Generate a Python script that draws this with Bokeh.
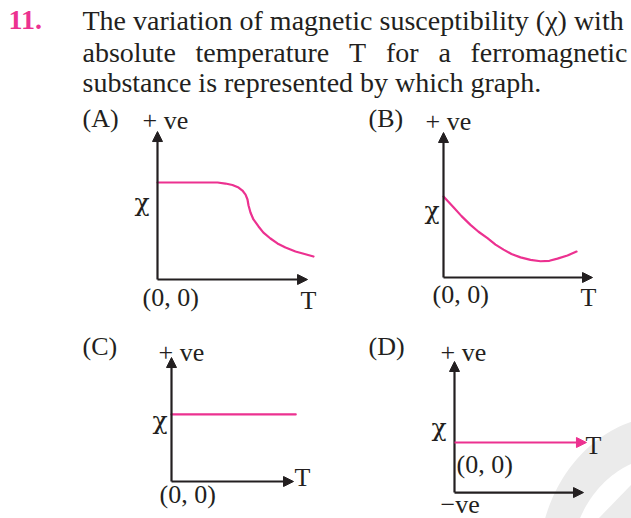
import numpy as np
from bokeh.plotting import figure
from bokeh.models import Range1d, Arrow, NormalHead
from bokeh.core.properties import value
from bokeh.embed import file_html
from bokeh.resources import INLINE

# ---------------------------------------------------------------------------
# Curves: magnetic susceptibility chi against absolute temperature T,
# in axis units (each axis is roughly 10 units long).
# ---------------------------------------------------------------------------
a_T = [0, 4.03, 4.56, 5.03, 5.44, 5.70, 5.91, 6.04, 6.11, 6.24, 6.44, 6.78,
       7.11, 7.58, 8.05, 8.59, 9.26, 9.87, 10.47]
a_chi = [6.51, 6.51, 6.44, 6.34, 6.17, 5.97, 5.70, 5.37, 4.97, 4.50, 4.03,
         3.56, 3.15, 2.75, 2.42, 2.15, 1.88, 1.71, 1.54]

b_T = [0, 0.67, 1.21, 1.81, 2.35, 2.95, 3.49, 4.03, 4.56, 5.17, 5.84, 6.51,
       7.11, 7.65, 8.32, 8.93]
b_chi = [5.44, 4.72, 4.12, 3.53, 3.07, 2.64, 2.21, 1.87, 1.58, 1.35, 1.18,
         1.09, 1.12, 1.27, 1.48, 1.74]

c_T = [0, 10.1]
c_chi = [5.45, 5.45]

d_T = [0, 10.23]
d_chi = [0, 0]

# Texts
question_number = "11."
question_lines = [
    "The variation of magnetic susceptibility (χ) with",
    "absolute temperature T for a ferromagnetic",
    "substance is represented by which graph.",
]
panel_labels = ["(A)", "(B)", "(C)", "(D)"]
axis_top_label = "+ ve"
axis_bottom_label = "−ve"
chi_label = "χ"
temp_label = "T"
origin_label = "(0, 0)"

# ---------------------------------------------------------------------------
W, H = 631, 518
INK = "#231f20"
PINK = "#ec3190"
FONT = value("Liberation Serif, DejaVu Serif")
GREEK = value("DejaVu Serif")
FS = "26px"
FS_Q = "28px"
LIFT = 10  # text baseline correction in pixels

p = figure(width=W, height=H, x_range=Range1d(0, W), y_range=Range1d(H, 0),
           min_border=0, toolbar_location=None, output_backend="svg",
           x_axis_location=None, y_axis_location=None)
p.grid.visible = False
p.outline_line_color = None
p.background_fill_color = "white"
p.border_fill_color = "white"

# faint publisher mark in the lower right corner
th = np.linspace(np.pi * 0.96, np.pi * 0.36, 60)
cx, cy = 668, 565
outer = [(cx + 130 * np.cos(t), cy - 150 * np.sin(t)) for t in th]
inner = [(cx + 98 * np.cos(t), cy - 110 * np.sin(t)) for t in th[::-1]]
ring = outer + inner
p.patch([q[0] for q in ring], [q[1] for q in ring], fill_color="#ebebeb",
        line_color=None)
p.patch([598, 631, 631], [518, 484, 518], fill_color="#ebebeb", line_color=None)

# panel frames: origin in pixels, pixels per unit, axis extents in units
panels = {
    "A": dict(o=(157, 279), s=14.9, x_end=10.07, y_end=9.93, y_start=0.0),
    "B": dict(o=(443, 277), s=14.9, x_end=10.0, y_end=9.73, y_start=0.0),
    "C": dict(o=(171, 481), s=12.3, x_end=9.92, y_end=10.08, y_start=0.0),
    "D": dict(o=(454, 442), s=12.9, x_end=10.0, y_end=6.28, y_start=-3.88),
}

for name, cfg in panels.items():
    ox, oy = cfg["o"]
    s = cfg["s"]
    p.extra_x_ranges[name] = Range1d(-ox / s, (W - ox) / s)
    p.extra_y_ranges[name] = Range1d((oy - H) / s, oy / s)


def arrow(name, x0, y0, x1, y1, color=INK, width=2.2):
    p.add_layout(Arrow(
        end=NormalHead(size=10, fill_color=color, line_color=color, line_width=1),
        x_start=x0, y_start=y0, x_end=x1, y_end=y1,
        line_color=color, line_width=width,
        x_range_name=name, y_range_name=name))


# axes
for name, cfg in panels.items():
    y0 = cfg["y_start"]
    arrow(name, 0, y0, 0, cfg["y_end"])
    arrow(name, 0, y0, cfg["x_end"], y0)

# curves
curve_kw = dict(line_color=PINK, line_width=2.2, line_join="round", line_cap="round")
p.line(a_T, a_chi, x_range_name="A", y_range_name="A", **curve_kw)
p.line(b_T, b_chi, x_range_name="B", y_range_name="B", **curve_kw)
p.line(c_T, c_chi, x_range_name="C", y_range_name="C", **curve_kw)
arrow("D", d_T[0], d_chi[0], d_T[-1], d_chi[-1], color=PINK)


def put(xs, ys, texts, size=FS, font=FONT, color=INK, **kw):
    p.text(x=xs, y=[y - LIFT for y in ys], text=texts, text_font=font,
           text_font_size=size, text_color=color, text_baseline="alphabetic", **kw)


# question text
put([8], [29.5], [question_number], size=FS_Q, color=PINK, text_font_style="bold")
put([82], [29.5], [question_lines[0]], size=FS_Q)

# second line is justified between the margins
line2 = question_lines[1].split(" ")
put([82, 195, 348.5, 385.5, 438], [61.5] * 5, line2[:-1], size=FS_Q)
put([627], [61.5], [line2[-1]], size=FS_Q, text_align="right")

put([82], [92], [question_lines[2]], size=FS_Q)

# panel annotations (pixel positions)
put([82, 368, 82, 368], [127.5, 128, 356, 356], panel_labels)
put([142, 425, 158, 440], [129.5, 130.5, 361.5, 361.7], [axis_top_label] * 4)
put([440], [513.5], [axis_bottom_label])
put([134, 424, 152, 431], [212, 220, 430, 437], [chi_label] * 4,
    size="25px", font=GREEK)
put([142, 432, 159, 456], [307, 303.5, 503.5, 473.5], [origin_label] * 4)
put([300, 580, 294, 585], [310, 306.7, 486.5, 455], [temp_label] * 4)

open("out.html", "w").write(file_html(p, INLINE))
